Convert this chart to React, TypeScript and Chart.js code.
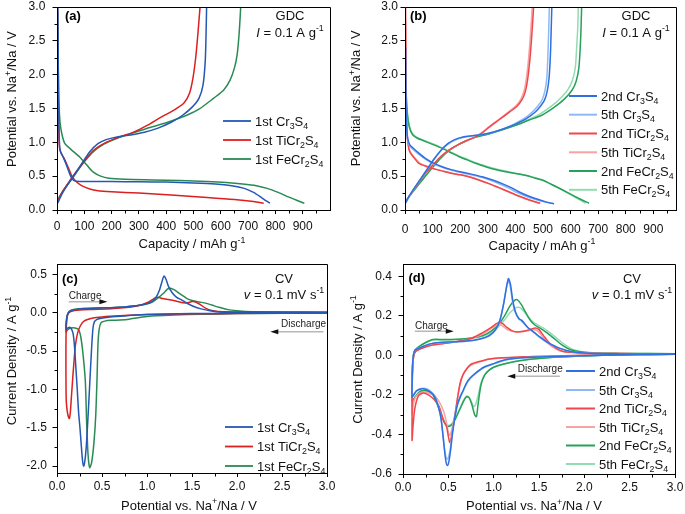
import React, { useEffect, useRef } from "react";
import { Chart, registerables } from "chart.js";

Chart.register(...registerables);

const FONT = "'Liberation Sans', Arial, Helvetica, sans-serif";

type P = [number, number];

// ---------------- tick labels ----------------
const ticksCapacity = [0, 100, 200, 300, 400, 500, 600, 700, 800, 900];
const ticksPotentialGDC = [0, 0.5, 1.0, 1.5, 2.0, 2.5, 3.0];
const ticksPotentialCV = [0, 0.5, 1.0, 1.5, 2.0, 2.5, 3.0];
const ticksCurrentC = [-2.0, -1.5, -1.0, -0.5, 0, 0.5];
const ticksCurrentD = [-0.6, -0.4, -0.2, 0, 0.2, 0.4];

// ---------------- (a) 1st cycle GDC ----------------
const aCr3S4Dis: P[] = [[3,3.0],[4,2.5],[5,2.0],[6,1.5],[8,1.1],[10,0.92],[14,0.85],[25,0.76],[38,0.63],[50,0.5],[60,0.44],[72,0.425],[100,0.42],[200,0.42],[300,0.418],[400,0.412],[500,0.4],[580,0.385],[640,0.36],[686,0.32],[720,0.26],[750,0.18],[768,0.13],[780,0.1]];
const aCr3S4Chg: P[] = [[2,0.1],[20,0.25],[50,0.44],[90,0.68],[120,0.86],[150,0.98],[180,1.04],[220,1.08],[270,1.11],[320,1.15],[370,1.21],[420,1.3],[460,1.4],[495,1.52],[520,1.65],[535,1.85],[543,2.2],[546,2.6],[548,3.0]];
const aTiCr2S4Dis: P[] = [[2,3.0],[3,2.5],[4,2.0],[5,1.5],[7,1.1],[9,0.93],[13,0.86],[25,0.77],[40,0.64],[55,0.5],[70,0.42],[90,0.36],[120,0.31],[150,0.285],[200,0.27],[300,0.25],[418,0.22],[550,0.185],[650,0.155],[720,0.125],[757,0.1]];
const aTiCr2S4Chg: P[] = [[1,0.1],[17,0.25],[48,0.44],[84,0.64],[133,0.88],[180,1.0],[230,1.08],[280,1.15],[330,1.25],[380,1.37],[430,1.48],[465,1.58],[485,1.72],[498,1.95],[508,2.25],[516,2.6],[524,3.0]];
const aFeCr2S4Dis: P[] = [[2,2.95],[3,2.5],[5,2.0],[7,1.6],[11,1.3],[18,1.12],[29,0.98],[50,0.9],[84,0.78],[110,0.66],[133,0.56],[160,0.5],[190,0.47],[250,0.455],[350,0.445],[450,0.435],[550,0.42],[620,0.405],[680,0.385],[730,0.36],[770,0.32],[810,0.26],[850,0.19],[880,0.14],[906,0.1]];
const aFeCr2S4Chg: P[] = [[2,0.15],[25,0.3],[55,0.46],[90,0.66],[130,0.85],[170,0.97],[220,1.06],[280,1.14],[340,1.22],[400,1.29],[475,1.4],[520,1.49],[573,1.65],[610,1.77],[634,1.92],[650,2.1],[660,2.3],[667,2.6],[673,3.0]];

// ---------------- (b) 2nd / 5th cycle GDC ----------------
const bCr3S4Dis2: P[] = [[2,2.4],[3,1.8],[5,1.3],[10,1.05],[18,0.96],[28,0.92],[50,0.84],[75,0.76],[105,0.69],[135,0.64],[165,0.6],[195,0.57],[240,0.53],[280,0.49],[320,0.44],[352,0.39],[385,0.33],[412,0.27],[445,0.21],[472,0.17],[510,0.12],[540,0.09]];
const bCr3S4Chg2: P[] = [[1,0.1],[10,0.17],[30,0.3],[55,0.45],[80,0.6],[105,0.75],[130,0.88],[155,0.98],[180,1.04],[210,1.08],[250,1.1],[300,1.13],[350,1.19],[400,1.27],[440,1.35],[470,1.44],[490,1.53],[505,1.62],[515,1.75],[522,1.95],[527,2.3],[530,2.7],[532,3.0]];
const bCr3S4Dis5: P[] = [[2,2.3],[3,1.7],[5,1.25],[10,1.02],[18,0.94],[28,0.9],[50,0.82],[75,0.75],[105,0.68],[135,0.63],[165,0.59],[195,0.56],[240,0.52],[280,0.48],[315,0.43],[345,0.38],[378,0.32],[405,0.26],[440,0.2],[470,0.16],[505,0.12],[528,0.1]];
const bCr3S4Chg5: P[] = [[1,0.1],[10,0.17],[30,0.3],[55,0.45],[80,0.6],[105,0.75],[130,0.88],[155,0.97],[180,1.03],[210,1.07],[250,1.1],[300,1.13],[350,1.19],[400,1.28],[435,1.36],[462,1.45],[482,1.54],[497,1.63],[507,1.76],[514,1.96],[518,2.3],[521,2.7],[523,3.0]];
const bTiCr2S4Dis2: P[] = [[2,3.0],[3,2.5],[4,2.0],[5,1.5],[8,1.1],[14,0.9],[20,0.84],[35,0.76],[50,0.69],[80,0.64],[111,0.6],[141,0.57],[171,0.54],[200,0.52],[231,0.49],[270,0.44],[304,0.39],[340,0.33],[376,0.27],[410,0.21],[436,0.17],[465,0.13],[490,0.1]];
const bTiCr2S4Chg2: P[] = [[1,0.1],[15,0.2],[40,0.35],[70,0.52],[100,0.66],[130,0.79],[160,0.89],[190,0.96],[220,1.02],[250,1.07],[280,1.14],[304,1.22],[340,1.33],[376,1.44],[405,1.53],[424,1.63],[436,1.75],[444,1.92],[452,2.2],[458,2.5],[463,2.8],[466,3.0]];
const bTiCr2S4Dis5: P[] = [[2,2.8],[3,2.0],[5,1.4],[9,1.05],[15,0.9],[22,0.84],[38,0.76],[55,0.69],[85,0.64],[115,0.6],[145,0.57],[175,0.54],[205,0.52],[235,0.49],[272,0.44],[305,0.39],[340,0.33],[375,0.27],[408,0.21],[434,0.17],[462,0.13],[488,0.1]];
const bTiCr2S4Chg5: P[] = [[1,0.1],[15,0.2],[40,0.35],[70,0.52],[100,0.66],[130,0.79],[160,0.89],[190,0.96],[220,1.02],[250,1.07],[280,1.15],[304,1.23],[340,1.34],[375,1.45],[402,1.54],[420,1.64],[432,1.77],[440,1.95],[447,2.2],[453,2.5],[458,2.8],[461,3.0]];
const bFeCr2S4Dis2: P[] = [[2,2.2],[3,1.9],[6,1.55],[12,1.3],[20,1.17],[30,1.1],[45,1.06],[63,1.03],[100,0.97],[135,0.91],[165,0.85],[195,0.79],[225,0.74],[255,0.69],[285,0.65],[316,0.61],[360,0.57],[400,0.54],[440,0.51],[472,0.47],[500,0.44],[520,0.4],[550,0.34],[593,0.25],[630,0.17],[667,0.1]];
const bFeCr2S4Chg2: P[] = [[1,0.12],[15,0.2],[40,0.33],[70,0.48],[100,0.63],[130,0.77],[160,0.88],[190,0.96],[220,1.02],[250,1.07],[300,1.12],[350,1.18],[400,1.25],[450,1.33],[496,1.4],[545,1.53],[580,1.65],[605,1.77],[620,1.9],[630,2.1],[635,2.4],[638,2.7],[640,3.0]];
const bFeCr2S4Dis5: P[] = [[2,2.3],[3,2.0],[6,1.6],[12,1.33],[20,1.19],[30,1.12],[45,1.07],[63,1.04],[100,0.98],[135,0.92],[165,0.86],[195,0.8],[225,0.75],[255,0.7],[285,0.66],[316,0.62],[360,0.58],[400,0.545],[440,0.51],[470,0.48],[500,0.44],[525,0.39],[555,0.33],[590,0.25],[625,0.17],[655,0.1]];
const bFeCr2S4Chg5: P[] = [[1,0.12],[15,0.2],[40,0.33],[70,0.48],[100,0.63],[130,0.77],[160,0.88],[190,0.96],[220,1.02],[250,1.07],[300,1.12],[350,1.18],[400,1.25],[450,1.34],[490,1.42],[535,1.55],[568,1.67],[592,1.79],[607,1.92],[617,2.1],[622,2.4],[626,2.7],[628,3.0]];

// ---------------- (c) 1st cycle CV ----------------
const cCr3S4: P[] = [[3.0,0.0],[2.5,-0.004],[2.0,-0.008],[1.5,-0.012],[1.2,-0.018],[1.0,-0.025],[0.8,-0.035],[0.65,-0.05],[0.55,-0.062],[0.48,-0.075],[0.44,-0.09],[0.415,-0.12],[0.4,-0.2],[0.385,-0.45],[0.365,-0.9],[0.345,-1.35],[0.325,-1.75],[0.308,-1.95],[0.296,-2.0],[0.283,-1.92],[0.268,-1.7],[0.255,-1.5],[0.24,-1.3],[0.225,-1.0],[0.21,-0.72],[0.195,-0.45],[0.18,-0.28],[0.16,-0.21],[0.14,-0.19],[0.12,-0.2],[0.1,-0.21],[0.102,-0.12],[0.112,-0.04],[0.128,0.0],[0.16,0.025],[0.2,0.04],[0.3,0.055],[0.45,0.062],[0.6,0.066],[0.75,0.075],[0.88,0.09],[0.98,0.11],[1.05,0.14],[1.1,0.2],[1.14,0.3],[1.17,0.42],[1.19,0.48],[1.21,0.44],[1.24,0.34],[1.28,0.26],[1.33,0.2],[1.38,0.17],[1.45,0.12],[1.52,0.08],[1.6,0.05],[1.7,0.025],[1.8,0.012],[2.0,0.006],[2.5,0.004],[3.0,0.004]];
const cTiCr2S4: P[] = [[3.0,-0.003],[2.5,-0.005],[2.0,-0.01],[1.5,-0.015],[1.0,-0.025],[0.7,-0.04],[0.5,-0.055],[0.4,-0.07],[0.3,-0.11],[0.26,-0.17],[0.23,-0.26],[0.205,-0.42],[0.19,-0.62],[0.175,-0.85],[0.16,-1.1],[0.148,-1.3],[0.137,-1.38],[0.125,-1.35],[0.112,-1.27],[0.103,-1.15],[0.1,-0.95],[0.099,-0.6],[0.1,-0.35],[0.103,-0.2],[0.11,-0.08],[0.125,-0.01],[0.16,0.02],[0.25,0.035],[0.4,0.042],[0.6,0.05],[0.8,0.07],[0.9,0.09],[1.0,0.13],[1.06,0.17],[1.1,0.2],[1.13,0.2],[1.17,0.185],[1.25,0.17],[1.33,0.15],[1.4,0.13],[1.45,0.13],[1.5,0.145],[1.54,0.14],[1.6,0.1],[1.65,0.06],[1.72,0.03],[1.85,0.012],[2.2,0.008],[2.5,0.01],[3.0,0.005]];
const cFeCr2S4: P[] = [[3.0,-0.005],[2.5,-0.008],[2.0,-0.012],[1.6,-0.02],[1.3,-0.03],[1.1,-0.04],[1.0,-0.05],[0.9,-0.065],[0.8,-0.085],[0.7,-0.095],[0.6,-0.1],[0.53,-0.11],[0.49,-0.13],[0.468,-0.22],[0.455,-0.42],[0.445,-0.85],[0.43,-1.35],[0.41,-1.7],[0.385,-1.95],[0.363,-2.02],[0.345,-1.85],[0.33,-1.45],[0.315,-0.9],[0.29,-0.55],[0.265,-0.32],[0.24,-0.22],[0.2,-0.2],[0.16,-0.2],[0.12,-0.22],[0.1,-0.25],[0.103,-0.15],[0.11,-0.06],[0.125,0.0],[0.15,0.03],[0.2,0.045],[0.3,0.055],[0.45,0.062],[0.6,0.066],[0.75,0.075],[0.88,0.09],[0.98,0.11],[1.06,0.14],[1.12,0.19],[1.18,0.25],[1.23,0.31],[1.26,0.32],[1.3,0.3],[1.35,0.26],[1.4,0.22],[1.45,0.18],[1.5,0.16],[1.58,0.14],[1.65,0.125],[1.72,0.1],[1.8,0.07],[1.9,0.04],[2.0,0.025],[2.1,0.015],[2.3,0.01],[2.6,0.006],[3.0,0.005]];

// ---------------- (d) 2nd / 5th cycle CV ----------------
const dCr3S4c2: P[] = [[3.0,0.005],[2.6,0.004],[2.2,0.0],[1.8,-0.004],[1.5,-0.008],[1.3,-0.012],[1.15,-0.02],[1.07,-0.03],[0.98,-0.045],[0.89,-0.06],[0.8,-0.09],[0.74,-0.115],[0.7,-0.14],[0.66,-0.18],[0.63,-0.21],[0.6,-0.25],[0.57,-0.32],[0.545,-0.4],[0.525,-0.48],[0.505,-0.54],[0.49,-0.557],[0.475,-0.54],[0.46,-0.49],[0.44,-0.4],[0.42,-0.32],[0.39,-0.26],[0.35,-0.21],[0.3,-0.185],[0.25,-0.172],[0.2,-0.17],[0.15,-0.18],[0.12,-0.2],[0.1,-0.21],[0.1,-0.15],[0.105,-0.05],[0.115,0.0],[0.13,0.025],[0.17,0.035],[0.22,0.045],[0.3,0.058],[0.4,0.065],[0.55,0.068],[0.7,0.072],[0.85,0.083],[0.95,0.1],[1.02,0.13],[1.07,0.18],[1.11,0.26],[1.14,0.34],[1.163,0.388],[1.185,0.36],[1.21,0.28],[1.24,0.22],[1.28,0.185],[1.31,0.177],[1.38,0.14],[1.45,0.115],[1.51,0.093],[1.58,0.07],[1.66,0.05],[1.74,0.034],[1.85,0.02],[2.0,0.012],[2.3,0.008],[2.6,0.007],[3.0,0.007]];
const dCr3S4c5: P[] = [[3.0,0.006],[2.6,0.004],[2.2,0.0],[1.8,-0.004],[1.5,-0.008],[1.3,-0.013],[1.15,-0.022],[1.07,-0.032],[0.98,-0.047],[0.89,-0.063],[0.8,-0.092],[0.74,-0.118],[0.7,-0.145],[0.66,-0.185],[0.63,-0.215],[0.6,-0.25],[0.57,-0.31],[0.545,-0.385],[0.525,-0.46],[0.505,-0.51],[0.488,-0.525],[0.472,-0.51],[0.455,-0.46],[0.435,-0.38],[0.415,-0.31],[0.385,-0.25],[0.35,-0.205],[0.3,-0.18],[0.25,-0.168],[0.2,-0.168],[0.15,-0.178],[0.12,-0.195],[0.1,-0.205],[0.1,-0.14],[0.105,-0.05],[0.115,0.0],[0.13,0.025],[0.17,0.036],[0.22,0.046],[0.3,0.058],[0.4,0.064],[0.55,0.067],[0.7,0.071],[0.85,0.082],[0.95,0.098],[1.02,0.127],[1.07,0.175],[1.105,0.25],[1.135,0.33],[1.158,0.375],[1.18,0.355],[1.205,0.28],[1.235,0.22],[1.275,0.185],[1.31,0.172],[1.38,0.138],[1.45,0.113],[1.51,0.09],[1.58,0.068],[1.66,0.048],[1.74,0.033],[1.85,0.02],[2.0,0.012],[2.3,0.008],[2.6,0.007],[3.0,0.007]];
const dTiCr2S4c2: P[] = [[3.0,0.005],[2.5,0.004],[2.0,0.0],[1.6,-0.004],[1.3,-0.008],[1.1,-0.012],[0.95,-0.018],[0.85,-0.03],[0.75,-0.045],[0.7,-0.07],[0.66,-0.1],[0.63,-0.14],[0.6,-0.22],[0.575,-0.3],[0.55,-0.37],[0.53,-0.42],[0.515,-0.44],[0.5,-0.41],[0.48,-0.36],[0.445,-0.33],[0.4,-0.26],[0.335,-0.22],[0.28,-0.2],[0.225,-0.19],[0.17,-0.205],[0.13,-0.27],[0.11,-0.36],[0.1,-0.43],[0.1,-0.3],[0.102,-0.15],[0.108,-0.05],[0.12,0.0],[0.14,0.02],[0.2,0.035],[0.3,0.05],[0.45,0.06],[0.6,0.07],[0.75,0.085],[0.88,0.115],[0.97,0.14],[1.03,0.16],[1.07,0.168],[1.1,0.16],[1.15,0.14],[1.2,0.125],[1.26,0.118],[1.33,0.122],[1.4,0.13],[1.46,0.138],[1.5,0.13],[1.55,0.1],[1.6,0.07],[1.66,0.045],[1.75,0.022],[1.9,0.014],[2.2,0.01],[2.6,0.008],[3.0,0.008]];
const dTiCr2S4c5: P[] = [[3.0,0.006],[2.5,0.004],[2.0,0.0],[1.6,-0.004],[1.3,-0.008],[1.1,-0.013],[0.95,-0.02],[0.85,-0.033],[0.75,-0.05],[0.7,-0.068],[0.66,-0.1],[0.63,-0.15],[0.6,-0.22],[0.575,-0.29],[0.55,-0.35],[0.53,-0.39],[0.515,-0.405],[0.5,-0.39],[0.48,-0.34],[0.45,-0.285],[0.4,-0.235],[0.35,-0.205],[0.28,-0.19],[0.22,-0.185],[0.17,-0.195],[0.13,-0.22],[0.11,-0.26],[0.1,-0.3],[0.1,-0.22],[0.102,-0.12],[0.108,-0.04],[0.12,0.0],[0.14,0.02],[0.2,0.035],[0.3,0.05],[0.45,0.06],[0.6,0.07],[0.75,0.085],[0.88,0.108],[0.97,0.135],[1.03,0.152],[1.07,0.155],[1.1,0.148],[1.15,0.13],[1.22,0.12],[1.3,0.12],[1.38,0.125],[1.44,0.13],[1.48,0.125],[1.53,0.1],[1.58,0.07],[1.64,0.045],[1.72,0.025],[1.85,0.014],[2.2,0.01],[2.6,0.008],[3.0,0.008]];
const dFeCr2S4c2: P[] = [[3.0,0.005],[2.5,0.003],[2.2,0.0],[1.9,-0.005],[1.6,-0.012],[1.4,-0.02],[1.25,-0.03],[1.1,-0.045],[1.0,-0.06],[0.95,-0.075],[0.9,-0.1],[0.86,-0.15],[0.83,-0.24],[0.81,-0.31],[0.79,-0.3],[0.76,-0.25],[0.73,-0.215],[0.7,-0.21],[0.67,-0.23],[0.63,-0.27],[0.58,-0.32],[0.54,-0.35],[0.5,-0.36],[0.47,-0.35],[0.43,-0.31],[0.38,-0.25],[0.33,-0.2],[0.27,-0.18],[0.2,-0.18],[0.15,-0.2],[0.12,-0.22],[0.1,-0.235],[0.1,-0.18],[0.104,-0.08],[0.112,-0.01],[0.13,0.025],[0.18,0.045],[0.25,0.065],[0.33,0.08],[0.45,0.08],[0.6,0.082],[0.75,0.088],[0.88,0.1],[0.98,0.125],[1.06,0.16],[1.12,0.2],[1.18,0.25],[1.23,0.278],[1.26,0.282],[1.3,0.26],[1.35,0.22],[1.4,0.18],[1.45,0.155],[1.52,0.135],[1.6,0.11],[1.68,0.08],[1.76,0.05],[1.84,0.03],[1.95,0.018],[2.1,0.012],[2.4,0.01],[3.0,0.008]];
const dFeCr2S4c5: P[] = [[3.0,0.006],[2.5,0.003],[2.2,0.0],[1.9,-0.005],[1.6,-0.012],[1.4,-0.02],[1.25,-0.03],[1.1,-0.045],[1.0,-0.06],[0.95,-0.075],[0.9,-0.098],[0.86,-0.14],[0.83,-0.2],[0.8,-0.25],[0.78,-0.26],[0.755,-0.235],[0.725,-0.21],[0.7,-0.205],[0.67,-0.225],[0.63,-0.265],[0.58,-0.315],[0.54,-0.345],[0.5,-0.355],[0.47,-0.345],[0.43,-0.305],[0.38,-0.245],[0.33,-0.2],[0.27,-0.18],[0.2,-0.18],[0.15,-0.2],[0.12,-0.22],[0.1,-0.235],[0.1,-0.18],[0.104,-0.08],[0.112,-0.01],[0.13,0.025],[0.18,0.045],[0.25,0.063],[0.33,0.077],[0.45,0.078],[0.6,0.08],[0.75,0.085],[0.88,0.096],[0.98,0.118],[1.06,0.148],[1.12,0.18],[1.18,0.215],[1.24,0.24],[1.28,0.243],[1.32,0.23],[1.37,0.2],[1.42,0.175],[1.48,0.155],[1.55,0.138],[1.62,0.115],[1.7,0.085],[1.78,0.055],[1.86,0.033],[1.96,0.02],[2.1,0.013],[2.4,0.01],[3.0,0.008]];

// ---------------- styles ----------------
const COL1 = { cr: "#2458b2", ti: "#dc1f1f", fe: "#2a8a55" };
const COL2 = { cr2: "#2f6fdf", cr5: "#8dbaf3", ti2: "#f0474b", ti5: "#f6a3a5", fe2: "#26a05a", fe5: "#93dcb1" };

type Curve = { label: string; color: string; pts: P[] };

type Spec = {
  id: string; left: number; top: number; w: number; h: number;
  yW: number; xH: number; padT: number; padR: number;
  x: { min: number; max: number; ticks: number[]; minor: number; major: number; dec: number; pad: number };
  y: { min: number; max: number; ticks: number[]; minor: number; major: number; dec: number; pad: number };
  xTitle: string; yTitle: string; xTitlePos: [number, number]; yTitlePos: [number, number];
  tag: string; tagPos: [number, number];
  cond: [string, string]; condPos: [number, number, number];
  legend: { x0: number; x1: number; tx: number; ys: number[]; lw: number };
  curves: Curve[];
  lw: number;
  arrows: { text: string; tx: number; ty: number; x0: number; x1: number; y: number; dir: "l" | "r" }[];
};

const panels: Spec[] = [
  {
    id: "a", left: 0, top: 0, w: 342, h: 257, yW: 57, xH: 47, padT: 7, padR: 12,
    x: { min: 0, max: 1000, ticks: ticksCapacity, minor: 50, major: 100, dec: 0, pad: 5.5 },
    y: { min: 0, max: 3, ticks: ticksPotentialGDC, minor: 0.25, major: 0.5, dec: 1, pad: 7.2 },
    xTitle: "Capacity / mAh g⁻¹", yTitle: "Potential vs. Na⁺/Na / V",
    xTitlePos: [192, 243.5], yTitlePos: [11.7, 99],
    tag: "(a)", tagPos: [65, 15],
    cond: ["GDC", "*I* = 0.1 A g⁻¹"], condPos: [290, 15, 32],
    legend: { x0: 223, x1: 251, tx: 255, ys: [121, 140, 159], lw: 1.8 },
    lw: 1.5,
    curves: [
      { label: "1st Cr₃S₄", color: COL1.cr, pts: aCr3S4Dis },
      { label: "1st Cr₃S₄", color: COL1.cr, pts: aCr3S4Chg },
      { label: "1st TiCr₂S₄", color: COL1.ti, pts: aTiCr2S4Dis },
      { label: "1st TiCr₂S₄", color: COL1.ti, pts: aTiCr2S4Chg },
      { label: "1st FeCr₂S₄", color: COL1.fe, pts: aFeCr2S4Dis },
      { label: "1st FeCr₂S₄", color: COL1.fe, pts: aFeCr2S4Chg },
    ],
    arrows: [],
  },
  {
    id: "b", left: 342, top: 0, w: 343, h: 257, yW: 63, xH: 47, padT: 7, padR: 9,
    x: { min: 0, max: 982, ticks: ticksCapacity, minor: 50, major: 100, dec: 0, pad: 8 },
    y: { min: 0, max: 3, ticks: ticksPotentialGDC, minor: 0.25, major: 0.5, dec: 1, pad: 2.5 },
    xTitle: "Capacity / mAh g⁻¹", yTitle: "Potential vs. Na⁺/Na / V",
    xTitlePos: [200, 245], yTitlePos: [13.3, 98.3],
    tag: "(b)", tagPos: [68, 15],
    cond: ["GDC", "*I* = 0.1 A g⁻¹"], condPos: [294, 15, 32],
    legend: { x0: 227, x1: 255, tx: 259, ys: [96, 114.7, 133.5, 152.3, 171, 189.8], lw: 2 },
    lw: 1.5,
    curves: [
      { label: "2nd Cr₃S₄", color: COL2.cr2, pts: bCr3S4Dis2 },
      { label: "2nd Cr₃S₄", color: COL2.cr2, pts: bCr3S4Chg2 },
      { label: "5th Cr₃S₄", color: COL2.cr5, pts: bCr3S4Dis5 },
      { label: "5th Cr₃S₄", color: COL2.cr5, pts: bCr3S4Chg5 },
      { label: "2nd TiCr₂S₄", color: COL2.ti2, pts: bTiCr2S4Dis2 },
      { label: "2nd TiCr₂S₄", color: COL2.ti2, pts: bTiCr2S4Chg2 },
      { label: "5th TiCr₂S₄", color: COL2.ti5, pts: bTiCr2S4Dis5 },
      { label: "5th TiCr₂S₄", color: COL2.ti5, pts: bTiCr2S4Chg5 },
      { label: "2nd FeCr₂S₄", color: COL2.fe2, pts: bFeCr2S4Dis2 },
      { label: "2nd FeCr₂S₄", color: COL2.fe2, pts: bFeCr2S4Chg2 },
      { label: "5th FeCr₂S₄", color: COL2.fe5, pts: bFeCr2S4Dis5 },
      { label: "5th FeCr₂S₄", color: COL2.fe5, pts: bFeCr2S4Chg5 },
    ],
    arrows: [],
  },
  {
    id: "c", left: 0, top: 257, w: 342, h: 257, yW: 57, xH: 41, padT: 7, padR: 15,
    x: { min: 0, max: 3, ticks: ticksPotentialCV, minor: 0.25, major: 0.5, dec: 1, pad: 2 },
    y: { min: -2.09, max: 0.635, ticks: ticksCurrentC, minor: 0.25, major: 0.5, dec: 1, pad: 5.5 },
    xTitle: "Potential vs. Na⁺/Na / V", yTitle: "Current Density / A g⁻¹",
    xTitlePos: [189, 248], yTitlePos: [11.7, 104],
    tag: "(c)", tagPos: [62, 21],
    cond: ["CV", "*v* = 0.1 mV s⁻¹"], condPos: [284, 21, 37],
    legend: { x0: 225, x1: 253, tx: 257, ys: [170, 189.5, 209], lw: 1.8 },
    lw: 1.5,
    curves: [
      { label: "1st Cr₃S₄", color: COL1.cr, pts: cCr3S4 },
      { label: "1st TiCr₂S₄", color: COL1.ti, pts: cTiCr2S4 },
      { label: "1st FeCr₂S₄", color: COL1.fe, pts: cFeCr2S4 },
    ],
    arrows: [
      { text: "Charge", tx: 0.13, ty: 0.226, x0: 0.13, x1: 0.56, y: 0.143, dir: "r" },
      { text: "Discharge", tx: 2.49, ty: -0.143, x0: 2.37, x1: 2.96, y: -0.248, dir: "l" },
    ],
  },
  {
    id: "d", left: 342, top: 257, w: 343, h: 257, yW: 61, xH: 40, padT: 7, padR: 10,
    x: { min: 0, max: 3, ticks: ticksPotentialCV, minor: 0.25, major: 0.5, dec: 1, pad: 2.8 },
    y: { min: -0.6, max: 0.462, ticks: ticksCurrentD, minor: 0.1, major: 0.2, dec: 1, pad: 6.5 },
    xTitle: "Potential vs. Na⁺/Na / V", yTitle: "Current Density / A g⁻¹",
    xTitlePos: [192, 248.3], yTitlePos: [15, 102.5],
    tag: "(d)", tagPos: [66.5, 20],
    cond: ["CV", "*v* = 0.1 mV s⁻¹"], condPos: [290, 21, 37],
    legend: { x0: 224, x1: 253, tx: 257, ys: [114, 133, 151.5, 170, 188.5, 207], lw: 2 },
    lw: 1.5,
    curves: [
      { label: "2nd Cr₃S₄", color: COL2.cr2, pts: dCr3S4c2 },
      { label: "5th Cr₃S₄", color: COL2.cr5, pts: dCr3S4c5 },
      { label: "2nd TiCr₂S₄", color: COL2.ti2, pts: dTiCr2S4c2 },
      { label: "5th TiCr₂S₄", color: COL2.ti5, pts: dTiCr2S4c5 },
      { label: "2nd FeCr₂S₄", color: COL2.fe2, pts: dFeCr2S4c2 },
      { label: "5th FeCr₂S₄", color: COL2.fe5, pts: dFeCr2S4c5 },
    ],
    arrows: [
      { text: "Charge", tx: 0.132, ty: 0.154, x0: 0.13, x1: 0.56, y: 0.122, dir: "r" },
      { text: "Discharge", tx: 1.265, ty: -0.066, x0: 1.15, x1: 1.73, y: -0.106, dir: "l" },
    ],
  },
];

// ---------------- rich text helper ----------------
const SUBS = "₀₁₂₃₄₅₆₇₈₉";
const SUPS: Record<string, string> = { "⁰": "0", "¹": "1", "²": "2", "³": "3", "⁴": "4", "⁵": "5", "⁶": "6", "⁷": "7", "⁸": "8", "⁹": "9", "⁺": "+", "⁻": "-" };
type Seg = { t: string; k: number; it: boolean };

function parseRich(s: string): Seg[] {
  const out: Seg[] = [];
  let it = false;
  for (const ch of s) {
    if (ch === "*") { it = !it; continue; }
    let k = 0;
    let c = ch;
    const si = SUBS.indexOf(ch);
    if (si >= 0) { k = 1; c = String(si); }
    else if (SUPS[ch] !== undefined) { k = 2; c = SUPS[ch]; }
    const last = out[out.length - 1];
    if (last && last.k === k && last.it === it) last.t += c;
    else out.push({ t: c, k, it });
  }
  return out;
}

function segFont(g: Seg, size: number, bold: boolean) {
  const sz = g.k ? size * 0.68 : size;
  return `${g.it ? "italic " : ""}${bold ? "bold " : ""}${sz}px ${FONT}`;
}

function drawRich(ctx: CanvasRenderingContext2D, s: string, x: number, y: number, size: number, align: "left" | "center" | "right", color: string, bold = false) {
  const segs = parseRich(s);
  const ws: number[] = [];
  let w = 0;
  for (const g of segs) { ctx.font = segFont(g, size, bold); const m = ctx.measureText(g.t).width; ws.push(m); w += m; }
  let cx = align === "left" ? x : align === "center" ? x - w / 2 : x - w;
  const base = y + size * 0.36;
  ctx.fillStyle = color;
  ctx.textAlign = "left";
  ctx.textBaseline = "alphabetic";
  segs.forEach((g, i) => {
    ctx.font = segFont(g, size, bold);
    const dy = g.k === 1 ? size * 0.22 : g.k === 2 ? -size * 0.4 : 0;
    ctx.fillText(g.t, cx, base + dy);
    cx += ws[i];
  });
}

function makeOverlay(spec: Spec) {
  return {
    id: "overlay_" + spec.id,
    afterDraw(chart: any) {
      const ctx: CanvasRenderingContext2D = chart.ctx;
      const a = chart.chartArea;
      const xs = chart.scales.x;
      const ys = chart.scales.y;
      ctx.save();
      // frame
      ctx.strokeStyle = "#000";
      ctx.lineWidth = 1;
      const L = Math.round(a.left) + 0.5, R = Math.round(a.right) + 0.5;
      const T = Math.round(a.top) + 0.5, B = Math.round(a.bottom) + 0.5;
      ctx.beginPath();
      ctx.moveTo(L, B); ctx.lineTo(L, T); ctx.lineTo(R, T); ctx.lineTo(R, B); ctx.lineTo(L, B);
      ctx.stroke();
      // minor ticks
      ctx.beginPath();
      const isMajor = (v: number, m: number) => Math.abs(v / m - Math.round(v / m)) < 1e-6;
      for (let k = Math.ceil(spec.x.min / spec.x.minor - 1e-9); k * spec.x.minor <= spec.x.max + 1e-9; k++) {
        const v = k * spec.x.minor;
        if (isMajor(v, spec.x.major)) continue;
        const px = Math.round(xs.getPixelForValue(v)) + 0.5;
        ctx.moveTo(px, B); ctx.lineTo(px, B + 3);
      }
      for (let k = Math.ceil(spec.y.min / spec.y.minor - 1e-9); k * spec.y.minor <= spec.y.max + 1e-9; k++) {
        const v = k * spec.y.minor;
        if (isMajor(v, spec.y.major)) continue;
        const py = Math.round(ys.getPixelForValue(v)) + 0.5;
        ctx.moveTo(L, py); ctx.lineTo(L - 3, py);
      }
      ctx.stroke();
      // axis titles
      drawRich(ctx, spec.xTitle, spec.xTitlePos[0], spec.xTitlePos[1], 13, "center", "#111");
      ctx.save();
      ctx.translate(spec.yTitlePos[0], spec.yTitlePos[1]);
      ctx.rotate(-Math.PI / 2);
      drawRich(ctx, spec.yTitle, 0, 0, 13, "center", "#111");
      ctx.restore();
      // panel tag and conditions
      drawRich(ctx, spec.tag, spec.tagPos[0], spec.tagPos[1], 13, "left", "#000", true);
      drawRich(ctx, spec.cond[0], spec.condPos[0], spec.condPos[1], 13, "center", "#111");
      drawRich(ctx, spec.cond[1], spec.condPos[0], spec.condPos[2], 13, "center", "#111");
      // legend
      const seen: string[] = [];
      const items: { label: string; color: string }[] = [];
      for (const ds of chart.data.datasets) {
        if (seen.indexOf(ds.label) >= 0) continue;
        seen.push(ds.label);
        items.push({ label: ds.label, color: ds.borderColor });
      }
      items.forEach((it, i) => {
        const y = spec.legend.ys[i];
        ctx.strokeStyle = it.color;
        ctx.lineWidth = spec.legend.lw;
        ctx.beginPath();
        ctx.moveTo(spec.legend.x0, y); ctx.lineTo(spec.legend.x1, y);
        ctx.stroke();
        drawRich(ctx, it.label, spec.legend.tx, y, 13, "left", "#111");
      });
      // charge / discharge arrows
      for (const ar of spec.arrows) {
        const p0 = xs.getPixelForValue(ar.x0), p1 = xs.getPixelForValue(ar.x1);
        const py = ys.getPixelForValue(ar.y);
        ctx.strokeStyle = "#b8b8b8";
        ctx.lineWidth = 1.5;
        ctx.beginPath();
        if (ar.dir === "r") { ctx.moveTo(p0, py); ctx.lineTo(p1 - 6, py); }
        else { ctx.moveTo(p0 + 6, py); ctx.lineTo(p1, py); }
        ctx.stroke();
        ctx.fillStyle = "#111";
        ctx.beginPath();
        if (ar.dir === "r") { ctx.moveTo(p1, py); ctx.lineTo(p1 - 8, py - 2.5); ctx.lineTo(p1 - 8, py + 2.5); }
        else { ctx.moveTo(p0, py); ctx.lineTo(p0 + 8, py - 2.5); ctx.lineTo(p0 + 8, py + 2.5); }
        ctx.closePath();
        ctx.fill();
        drawRich(ctx, ar.text, xs.getPixelForValue(ar.tx), ys.getPixelForValue(ar.ty), 10, "left", "#222");
      }
      ctx.restore();
    },
  };
}

function PanelChart({ spec }: { spec: Spec }) {
  const ref = useRef<HTMLCanvasElement>(null);
  useEffect(() => {
    const canvas = ref.current;
    if (!canvas) return;
    const tickFont = { family: FONT, size: 12 };
    const chart = new Chart(canvas, {
      type: "scatter",
      data: {
        datasets: spec.curves.map((c) => ({
          label: c.label,
          data: c.pts.map(([x, y]) => ({ x, y })),
          showLine: true,
          borderColor: c.color,
          backgroundColor: c.color,
          borderWidth: spec.lw,
          pointRadius: 0,
          tension: 0.25,
          fill: false,
        })),
      },
      options: {
        animation: false,
        responsive: false,
        devicePixelRatio: 1,
        events: [],
        layout: { padding: { top: spec.padT, right: spec.padR, left: 0, bottom: 0 } },
        plugins: { legend: { display: false }, tooltip: { enabled: false }, title: { display: false } },
        scales: {
          x: {
            type: "linear",
            min: spec.x.min,
            max: spec.x.max,
            afterBuildTicks: (s: any) => { s.ticks = spec.x.ticks.map((v) => ({ value: v })); },
            afterFit: (s: any) => { s.height = spec.xH; s.paddingLeft = 0; s.paddingRight = 0; },
            ticks: {
              autoSkip: false, maxRotation: 0, minRotation: 0, padding: spec.x.pad,
              color: "#111", font: tickFont,
              callback: (v: any) => Number(v).toFixed(spec.x.dec),
            },
            grid: { drawOnChartArea: false, drawTicks: true, tickLength: 4, color: "#000", lineWidth: 1 },
            border: { display: true, color: "#000", width: 1 },
            title: { display: false },
          },
          y: {
            type: "linear",
            min: spec.y.min,
            max: spec.y.max,
            afterBuildTicks: (s: any) => { s.ticks = spec.y.ticks.map((v) => ({ value: v })); },
            afterFit: (s: any) => { s.width = spec.yW; s.paddingTop = 0; s.paddingBottom = 0; },
            ticks: {
              autoSkip: false, padding: spec.y.pad, color: "#111", font: tickFont,
              callback: (v: any) => Number(v).toFixed(spec.y.dec),
            },
            grid: { drawOnChartArea: false, drawTicks: true, tickLength: 4.5, color: "#000", lineWidth: 1 },
            border: { display: true, color: "#000", width: 1 },
            title: { display: false },
          },
        },
      } as any,
      plugins: [makeOverlay(spec)],
    });
    return () => chart.destroy();
  }, [spec]);
  return (
    <canvas
      ref={ref}
      width={spec.w}
      height={spec.h}
      style={{ position: "absolute", left: spec.left, top: spec.top, width: spec.w, height: spec.h }}
    />
  );
}

export default function App() {
  return (
    <div style={{ position: "absolute", left: 0, top: 0, width: 685, height: 514, background: "#fff", overflow: "hidden" }}>
      {panels.map((p) => (
        <PanelChart key={p.id} spec={p} />
      ))}
    </div>
  );
}
